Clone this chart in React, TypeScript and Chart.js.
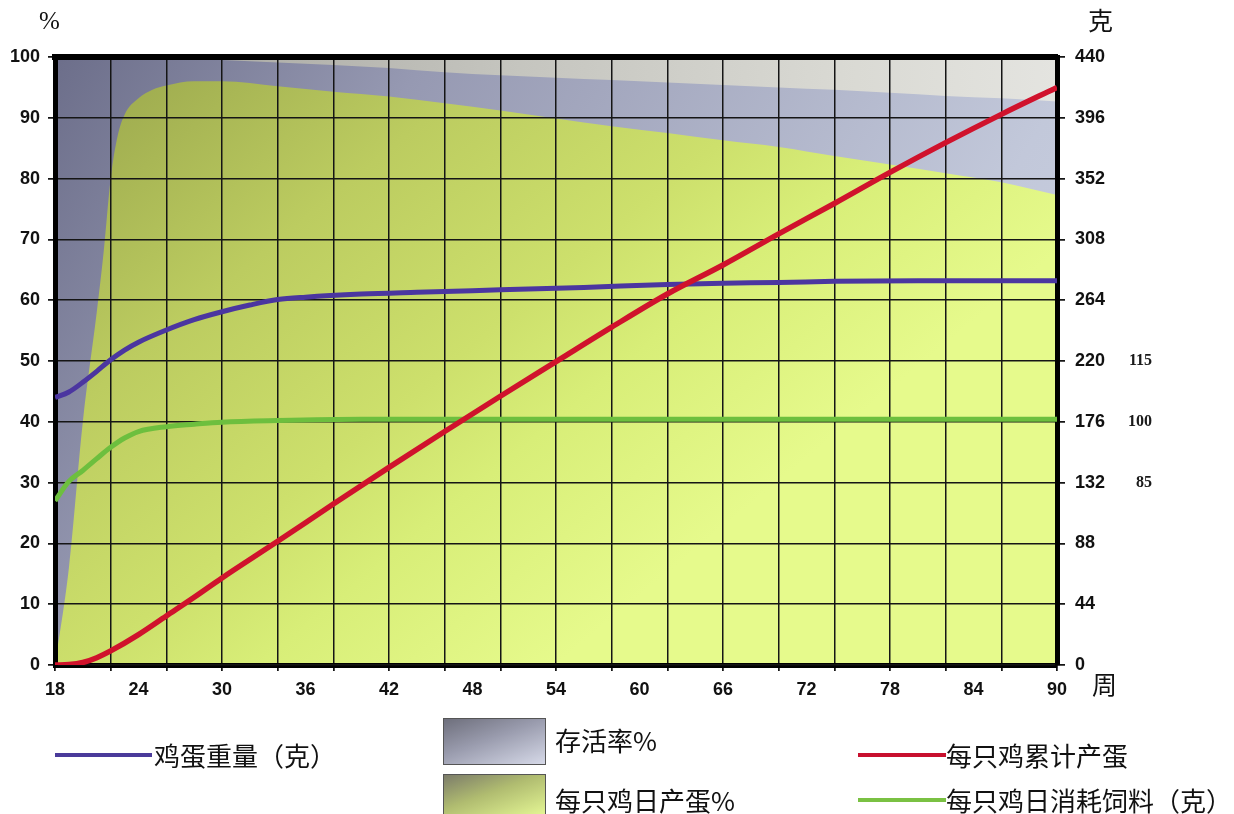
import React, { useEffect, useRef } from "react";
import { Chart, registerables } from "chart.js";

Chart.register(...registerables);

// ---- tick labels ----
const WEEK_LABELS = [18, 24, 30, 36, 42, 48, 54, 60, 66, 72, 78, 84, 90];
const GRID_WEEKS = [18, 22, 26, 30, 34, 38, 42, 46, 50, 54, 58, 62, 66, 70, 74, 78, 82, 86, 90];
const FEED_TICKS = [85, 100, 115];

// ---- series ----
const SURVIVAL_WEEKS = [18, 22, 26, 30, 34, 38, 42, 46, 50, 54, 58, 62, 66, 70, 74, 78, 82, 86, 90];
const SURVIVAL = [100, 100, 99.9, 99.5, 99.1, 98.7, 98.2, 97.5, 97.0, 96.6, 96.2, 95.8, 95.4, 95.0, 94.6, 94.1, 93.6, 93.2, 92.7];

const LAY_WEEKS = [18, 19, 20, 21, 21.5, 22, 22.5, 23, 24, 25, 26, 28, 30, 34, 38, 42, 46, 50, 54, 58, 62, 66, 70, 74, 78, 82, 86, 90];
const LAY_RATE = [0, 16, 40, 58, 68, 80, 87, 90.5, 93.2, 94.6, 95.3, 96.0, 96.0, 95.2, 94.3, 93.5, 92.4, 91.2, 89.9, 88.6, 87.5, 86.3, 85.2, 83.7, 82.3, 80.9, 79.4, 77.3];

const EGG_WEIGHT_WEEKS = [18, 19, 20, 21, 22, 23, 24, 26, 28, 30, 32, 34, 36, 40, 44, 50, 56, 62, 66, 70, 74, 80, 90];
const EGG_WEIGHT = [44.0, 44.9, 46.5, 48.3, 50.2, 51.8, 53.1, 55.1, 56.8, 58.1, 59.2, 60.1, 60.5, 61.0, 61.3, 61.7, 62.1, 62.6, 62.8, 62.9, 63.1, 63.2, 63.2];

const CUM_WEEKS = [18, 19, 20, 21, 22, 24, 26, 28, 30, 34, 38, 42, 46, 50, 54, 58, 62, 66, 70, 74, 78, 82, 86, 90];
const CUM_EGGS = [0, 0.3, 1.8, 5.3, 10.2, 22.0, 35.5, 49.0, 63.0, 89.5, 116.5, 143.0, 169.0, 194.5, 219.5, 244.5, 268.5, 289.5, 312.0, 334.0, 356.5, 378.0, 398.5, 418.0];

const FEED_WEEKS = [18, 19, 20, 21, 22, 23, 24, 26, 28, 30, 34, 40, 50, 60, 70, 80, 90];
const FEED = [80.5, 85.3, 88.0, 90.9, 93.7, 96.0, 97.6, 98.8, 99.4, 99.9, 100.3, 100.6, 100.6, 100.6, 100.6, 100.6, 100.6];

const pts = (xs: number[], ys: number[]) => xs.map((x, i) => ({ x, y: ys[i] }));

const TICK_FONT = { family: "'Liberation Sans', Arial, sans-serif", size: 18, weight: "bold" as const };
const GRID_COLOR = "#151515";

function survivalFill(ctx: any) {
  const a = ctx.chart.chartArea;
  if (!a) return "#9a9db5";
  const g = ctx.chart.ctx.createLinearGradient(a.left, a.top, a.right, a.bottom);
  g.addColorStop(0, "#6c6e8a");
  g.addColorStop(0.27, "#9699b2");
  g.addColorStop(0.75, "#c2c8da");
  g.addColorStop(1, "#ccd2e2");
  return g;
}

function layFill(ctx: any) {
  const a = ctx.chart.chartArea;
  if (!a) return "#c8dc68";
  const g = ctx.chart.ctx.createLinearGradient(a.left, a.top, a.left + (a.right - a.left) * 0.5, a.bottom);
  g.addColorStop(0, "#96a24a");
  g.addColorStop(0.36, "#bccc60");
  g.addColorStop(0.62, "#cde06c");
  g.addColorStop(0.76, "#d8ee78");
  g.addColorStop(1, "#e6fa8c");
  return g;
}

const gridOnTop = {
  id: "gridOnTop",
  beforeDatasetsDraw(chart: any) {
    const a = chart.chartArea;
    const ctx = chart.ctx;
    const g = ctx.createLinearGradient(a.left, 0, a.right, 0);
    g.addColorStop(0, "#9c9c9a");
    g.addColorStop(0.2, "#b0b0aa");
    g.addColorStop(0.45, "#c4c4be");
    g.addColorStop(0.8, "#dadad4");
    g.addColorStop(1, "#e4e4e0");
    ctx.save();
    ctx.fillStyle = g;
    ctx.fillRect(a.left, a.top, a.right - a.left, a.bottom - a.top);
    ctx.restore();
  },
  afterDatasetDraw(chart: any, args: any) {
    if (args.index !== 1) return;
    const area = chart.chartArea;
    ["xg", "y", "yEgg", "xTop"].forEach((id) => {
      const s = chart.scales[id];
      if (!s) return;
      s.drawGrid(area);
      if (typeof s.drawBorder === "function") s.drawBorder();
    });
  },
};

export default function App() {
  const ref = useRef<HTMLCanvasElement | null>(null);

  useEffect(() => {
    if (!ref.current) return;
    const chart = new Chart(ref.current, {
      type: "line",
      data: {
        datasets: [
          {
            label: "存活率%",
            data: pts(SURVIVAL_WEEKS, SURVIVAL),
            xAxisID: "x",
            yAxisID: "y",
            fill: "origin",
            backgroundColor: survivalFill,
            borderWidth: 0,
            borderColor: "rgba(0,0,0,0)",
            pointRadius: 0,
            cubicInterpolationMode: "monotone",
            order: 11,
          },
          {
            label: "每只鸡日产蛋%",
            data: pts(LAY_WEEKS, LAY_RATE),
            xAxisID: "x",
            yAxisID: "y",
            fill: "origin",
            backgroundColor: layFill,
            borderWidth: 0,
            borderColor: "rgba(0,0,0,0)",
            pointRadius: 0,
            cubicInterpolationMode: "monotone",
            order: 10,
          },
          {
            label: "每只鸡日消耗饲料（克）",
            data: pts(FEED_WEEKS, FEED),
            xAxisID: "x",
            yAxisID: "yFeed",
            fill: false,
            borderColor: "#6dbf3e",
            borderWidth: 5,
            pointRadius: 0,
            cubicInterpolationMode: "monotone",
            order: 3,
          },
          {
            label: "鸡蛋重量（克）",
            data: pts(EGG_WEIGHT_WEEKS, EGG_WEIGHT),
            xAxisID: "x",
            yAxisID: "y",
            fill: false,
            borderColor: "#4b36a0",
            borderWidth: 5,
            pointRadius: 0,
            cubicInterpolationMode: "monotone",
            order: 2,
          },
          {
            label: "每只鸡累计产蛋",
            data: pts(CUM_WEEKS, CUM_EGGS),
            xAxisID: "x",
            yAxisID: "yEgg",
            fill: false,
            borderColor: "#d0122c",
            borderWidth: 5.5,
            pointRadius: 0,
            cubicInterpolationMode: "monotone",
            order: 1,
          },
        ],
      },
      options: {
        responsive: false,
        animation: false,
        events: [],
        layout: { padding: { left: 0, right: 82, top: 57, bottom: 103 } },
        plugins: { legend: { display: false }, tooltip: { enabled: false } },
        scales: {
          x: {
            type: "linear",
            position: "bottom",
            weight: 1,
            min: 18,
            max: 90,
            afterBuildTicks: (s: any) => {
              s.ticks = WEEK_LABELS.map((v) => ({ value: v }));
            },
            grid: { display: false, drawTicks: false },
            border: { display: false },
            ticks: { font: TICK_FONT, color: "#111", padding: 8, maxRotation: 0, autoSkip: false },
            afterFit: (s: any) => {
              s.height = 40;
            },
          },
          xg: {
            type: "linear",
            position: "bottom",
            weight: 0,
            min: 18,
            max: 90,
            afterBuildTicks: (s: any) => {
              s.ticks = GRID_WEEKS.map((v) => ({ value: v }));
            },
            grid: { color: GRID_COLOR, lineWidth: 1.5, drawTicks: true, tickLength: 6, tickColor: GRID_COLOR },
            border: { display: true, color: "#000", width: 5 },
            ticks: { display: false },
            afterFit: (s: any) => {
              s.height = 6;
            },
          },
          xTop: {
            type: "linear",
            position: "top",
            min: 18,
            max: 90,
            grid: { display: false, drawTicks: false },
            border: { display: true, color: "#000", width: 6 },
            ticks: { display: false },
            afterFit: (s: any) => {
              s.height = 0;
            },
          },
          y: {
            type: "linear",
            position: "left",
            min: 0,
            max: 100,
            ticks: { stepSize: 10, font: TICK_FONT, color: "#111", padding: 8 },
            grid: { color: GRID_COLOR, lineWidth: 1.5, drawTicks: true, tickLength: 7, tickColor: GRID_COLOR },
            border: { display: true, color: "#000", width: 5 },
            afterFit: (s: any) => {
              s.width = 55;
            },
          },
          yEgg: {
            type: "linear",
            position: "right",
            weight: 0,
            min: 0,
            max: 440,
            ticks: { stepSize: 44, font: TICK_FONT, color: "#111", padding: 10 },
            grid: { drawOnChartArea: false, drawTicks: true, tickLength: 8, tickColor: GRID_COLOR, lineWidth: 1.5 },
            border: { display: true, color: "#000", width: 5 },
            afterFit: (s: any) => {
              s.width = 62;
            },
          },
          yFeed: {
            type: "linear",
            position: "right",
            weight: 1,
            min: 40,
            max: 190,
            afterBuildTicks: (s: any) => {
              s.ticks = FEED_TICKS.map((v) => ({ value: v }));
            },
            grid: { display: false, drawTicks: false },
            border: { display: false },
            ticks: {
              font: { family: "'Liberation Serif', 'Times New Roman', serif", size: 16, weight: "bold" },
              color: "#1a1a1a",
              padding: 4,
              crossAlign: "far",
            },
            afterFit: (s: any) => {
              s.width = 33;
            },
          },
        },
      } as any,
      plugins: [gridOnTop],
    });
    return () => chart.destroy();
  }, []);

  const cjk = "'Noto Sans CJK SC', 'Noto Sans', sans-serif";
  const txt = (left: number, top: number, s: string, size = 26, family = cjk): React.ReactNode => (
    <div
      style={{
        position: "absolute",
        left,
        top,
        fontFamily: family,
        fontSize: size,
        lineHeight: 1,
        color: "#111",
        whiteSpace: "nowrap",
      }}
    >
      {s}
    </div>
  );
  const line = (left: number, top: number, width: number, color: string) => (
    <div style={{ position: "absolute", left, top, width, height: 4, background: color }} />
  );
  const box = (left: number, top: number, height: number, bg: string) => (
    <div
      style={{
        position: "absolute",
        left,
        top,
        width: 103,
        height,
        background: bg,
        border: "1px solid #555",
        boxSizing: "border-box",
      }}
    />
  );

  return (
    <div style={{ position: "absolute", left: 0, top: 0, width: 1234, height: 814, background: "#fff", overflow: "hidden" }}>
      <canvas ref={ref} width={1234} height={814} style={{ position: "absolute", left: 0, top: 0 }} />
      {txt(39, 8, "%", 25, "'Liberation Serif', 'Times New Roman', serif")}
      {txt(1088, 7, "克", 25)}
      {txt(1092, 671, "周", 25)}

      {line(55, 753, 97, "#4a3a9a")}
      {txt(154, 742, "鸡蛋重量（克）")}

      {box(443, 718, 47, "linear-gradient(160deg, #6e6f7c 0%, #9a9cae 45%, #d6d9e8 100%)")}
      {txt(555, 727, "存活率%")}
      {box(443, 774, 42, "linear-gradient(160deg, #7c7c6a 0%, #b0bc70 45%, #e4f694 100%)")}
      {txt(555, 787, "每只鸡日产蛋%")}

      {line(858, 753, 88, "#c8102e")}
      {txt(946, 742, "每只鸡累计产蛋")}
      {line(858, 798, 88, "#7ac143")}
      {txt(946, 787, "每只鸡日消耗饲料（克）")}
    </div>
  );
}
